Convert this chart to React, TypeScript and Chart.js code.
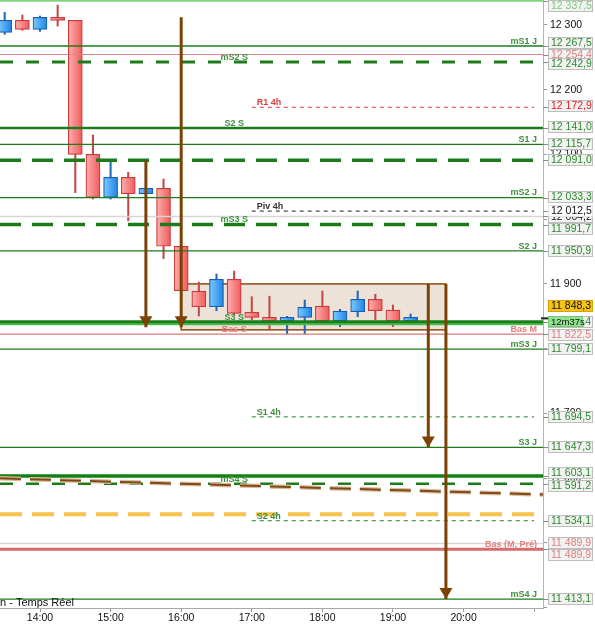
import React, { useEffect, useRef } from 'react';
import { Chart, registerables } from 'chart.js';
Chart.register(...registerables);

const FONT = "'Liberation Sans', Arial, Helvetica, sans-serif";

// ---------- data ----------
const candleTimes = ['13:30','13:45','14:00','14:15','14:30','14:45','15:00','15:15','15:30','15:45','16:00','16:15','16:30','16:45','17:00','17:15','17:30','17:45','18:00','18:15','18:30','18:45','19:00','19:15'];
const opens  = [12288.7,12307.2,12293.3,12311.8,12307.2,12100.2,12033.8,12064.7,12039.3,12047.7,11958.1,11889.0,11864.7,11907.1,11856.1,11848.4,11843.0,11848.4,11865.8,11843.0,11857.0,11876.2,11859.6,11843.0];
const highs  = [12319.6,12315.4,12313.8,12330.8,12307.2,12130.0,12089.8,12072.4,12049.5,12062.0,11958.1,11902.9,11915.3,11919.9,11880.2,11881.0,11849.9,11875.1,11889.0,11860.7,11889.0,11883.9,11867.4,11853.5];
const lows   = [12285.6,12291.8,12290.2,12298.4,12040.9,12031.1,12031.1,11997.6,12037.5,11938.9,11886.0,11850.4,11858.6,11852.0,11844.2,11828.8,11822.6,11822.6,11840.0,11833.9,11849.3,11844.0,11833.9,11840.0];
const closes = [12307.2,12293.3,12311.8,12307.2,12100.2,12033.8,12064.7,12039.3,12047.7,11958.1,11889.5,11864.7,11907.1,11854.5,11848.4,11843.0,11848.4,11863.8,11843.0,11858.1,11876.2,11858.6,11843.0,11848.3];

const levelNames  = ['', 'mS1 J', '', 'mS2 S', 'R1 4h', 'S2 S', 'S1 J', '', 'mS2 J', 'Piv 4h', '', 'mS3 S', 'S2 J', 'S3 S', '', 'Bas M', 'Bas S', 'mS3 J', 'S1 4h', 'S3 J', '', 'mS4 S', '', 'S2 4h', '', 'Bas (M, Pré)', 'mS4 J'];
const levelValues = [12337.5, 12267.5, 12254.4, 12242.9, 12172.9, 12141.0, 12115.7, 12091.0, 12033.3, 12012.5, 12004.2, 11991.7, 11950.9, 11841.4, 11838.0, 11822.5, 11822.5, 11799.1, 11694.5, 11647.3, 11603.1, 11591.2, 11544.0, 11534.1, 11499.0, 11489.9, 11413.1];

const xTickTimes = ['14:00','15:00','16:00','17:00','18:00','19:00','20:00','21:00'];
const fourHourSpan = ['17:00', '21:00'];
const midLabelTime = '16:45';

const arrowTimes = ['15:30', '16:00', '19:30', '19:45'];
const arrowTops  = [12091.0, 12312.0, 11900.0, 11900.0];
const arrowTips  = [11833.0, 11833.0, 11647.3, 11413.1];

const zoneTimes  = ['16:00', '19:45'];
const zoneValues = [11900.0, 11829.0];

const trendTimes  = ['13:26', '21:08'];
const trendValues = [11599.6, 11574.6];

const timerText = '12m37s';
const footerText = 'n - Temps Réel';

const X_MIN = 806;
const X_MAX = 1267.5;
const Y_MIN = 11399.3;
const Y_MAX = 12338.6;

// ---------- styles ----------
const G = '#1c7c1c';
const LG = '#3f8f3f';
const BG = '#2b8a2b';
const PINK = '#e27e7e';

type Box = { tc: string; bg?: string; bd?: string; dy: number[]; under?: boolean };
type St = { c?: string; w?: number; d?: number[]; span?: string; lab?: string; lc?: string; box?: Box };

const levelStyles: St[] = [
  { c: '#84d284', w: 2, box: { tc: '#7acb7a', dy: [5.3] } },
  { c: G, w: 1.3, lab: 'right', box: { tc: BG, dy: [-3.3] } },
  { c: '#d98585', w: 1.2, box: { tc: PINK, dy: [0], under: true } },
  { c: G, w: 3, d: [13, 13], lab: 'mid', box: { tc: BG, dy: [2] } },
  { c: '#e0393c', w: 1, d: [4, 4], span: '4h', lab: 'start', lc: '#e23c3c', box: { tc: '#e21a1a', dy: [-1] } },
  { c: G, w: 2.5, lab: 'mid', box: { tc: BG, dy: [-0.9] } },
  { c: G, w: 1.3, lab: 'right', box: { tc: BG, dy: [0] } },
  { c: G, w: 3.5, d: [21, 11], box: { tc: BG, dy: [0] } },
  { c: G, w: 1.3, lab: 'right', box: { tc: BG, dy: [-1] } },
  { c: '#222', w: 1, d: [4, 4], span: '4h', lab: 'start', lc: '#333', box: { tc: '#111', bg: '#ffffff', bd: '#e4e4e4', dy: [0] } },
  { c: '#d6d6d6', w: 1.5, box: { tc: '#222', dy: [1], under: true } },
  { c: G, w: 3.5, d: [21, 11], lab: 'mid', box: { tc: BG, dy: [4.8] } },
  { c: G, w: 1.3, lab: 'right', box: { tc: BG, dy: [0] } },
  { c: '#1a7f1a', w: 3, lab: 'mid', box: { tc: BG, dy: [0] } },
  { c: '#4cba4c', w: 2.5 },
  { c: '#d77a7a', w: 1.2, lab: 'right', lc: PINK, box: { tc: PINK, dy: [1] } },
  { lab: 'mid', lc: PINK },
  { c: G, w: 1.3, lab: 'right', box: { tc: BG, dy: [0] } },
  { c: G, w: 1, d: [4, 4], span: '4h', lab: 'start', box: { tc: BG, dy: [0.5] } },
  { c: G, w: 1.3, lab: 'right', box: { tc: BG, dy: [0] } },
  { c: '#138013', w: 3.5, box: { tc: BG, dy: [-3] } },
  { c: G, w: 2.5, d: [13, 13], lab: 'mid', box: { tc: BG, dy: [2.6] } },
  { c: '#f7c44c', w: 4, d: [22, 10] },
  { c: G, w: 1, d: [4, 4], span: '4h', lab: 'start', box: { tc: BG, dy: [0] } },
  { c: '#d6d6d6', w: 1.5 },
  { c: '#d66b6b', w: 3, lab: 'right', lc: PINK, box: { tc: PINK, dy: [-6.4, 6] } },
  { c: G, w: 1.3, lab: 'right', box: { tc: BG, dy: [0] } },
];

const toMin = (t: string) => {
  const [h, m] = t.split(':').map(Number);
  return h * 60 + m;
};
const fmtInt = (v: number) => {
  const s = String(Math.round(v));
  return s.slice(0, -3) + ' ' + s.slice(-3);
};
const fmt1 = (v: number) => {
  const [a, b] = v.toFixed(1).split('.');
  return a.slice(0, -3) + ' ' + a.slice(-3) + ',' + b;
};

const ARROW = '#7c4205';

function drawBox(ctx: CanvasRenderingContext2D, cy: number, text: string, tc: string, bg: string, bd: string, w = 45, h = 12, size = 10.5) {
  const x = 548;
  const top = Math.round(cy - h / 2);
  ctx.fillStyle = bg;
  ctx.fillRect(x, top, w, h);
  ctx.strokeStyle = bd;
  ctx.lineWidth = 1;
  ctx.strokeRect(x + 0.5, top + 0.5, w - 1, h - 1);
  ctx.fillStyle = tc;
  ctx.font = `${size}px ${FONT}`;
  ctx.textAlign = 'left';
  ctx.textBaseline = 'middle';
  ctx.fillText(text, x + 3, top + h / 2 + 0.5);
}

const overlay = {
  id: 'overlay',
  beforeDatasetsDraw(chart: any) {
    const { ctx, scales: { x: xs, y: ys } } = chart;
    const x0 = xs.getPixelForValue(toMin(zoneTimes[0]));
    const x1 = xs.getPixelForValue(toMin(zoneTimes[1]));
    const y0 = ys.getPixelForValue(zoneValues[0]);
    const y1 = ys.getPixelForValue(zoneValues[1]);
    ctx.save();
    ctx.fillStyle = '#ece2d8';
    ctx.fillRect(x0, y0, x1 - x0, y1 - y0);
    ctx.strokeStyle = '#8a4b14';
    ctx.lineWidth = 1.5;
    ctx.strokeRect(x0, y0, x1 - x0, y1 - y0);
    ctx.restore();
  },
  afterDatasetsDraw(chart: any) {
    const { ctx, chartArea, scales: { x: xs, y: ys } } = chart;
    ctx.save();
    ctx.fillStyle = ARROW;
    arrowTimes.forEach((t, i) => {
      const x = xs.getPixelForValue(toMin(t));
      const y = ys.getPixelForValue(arrowTips[i]);
      ctx.beginPath();
      ctx.moveTo(x - 6.5, y - 11);
      ctx.lineTo(x + 6.5, y - 11);
      ctx.lineTo(x, y);
      ctx.closePath();
      ctx.fill();
    });
    ctx.font = `bold 9px ${FONT}`;
    ctx.textBaseline = 'alphabetic';
    levelNames.forEach((name, i) => {
      if (!name) return;
      const s = levelStyles[i];
      const y = ys.getPixelForValue(levelValues[i]) - 2.2;
      ctx.fillStyle = s.lc || LG;
      if (s.lab === 'right') {
        ctx.textAlign = 'right';
        ctx.fillText(name, chartArea.right - 6, y);
      } else if (s.lab === 'mid') {
        ctx.textAlign = 'center';
        ctx.fillText(name, xs.getPixelForValue(toMin(midLabelTime)), y);
      } else if (s.lab === 'start') {
        ctx.textAlign = 'left';
        ctx.fillText(name, xs.getPixelForValue(toMin(fourHourSpan[0])) + 5, y);
      }
    });
    ctx.font = `11px ${FONT}`;
    ctx.fillStyle = '#111';
    ctx.textAlign = 'left';
    ctx.fillText(footerText, 0, chartArea.bottom - 2);
    ctx.restore();
  },
  afterDraw(chart: any) {
    const { ctx, chartArea, scales: { y: ys } } = chart;
    ctx.save();
    [true, false].forEach((pass) => {
      levelValues.forEach((v, i) => {
        const b = levelStyles[i].box;
        if (!b || !!b.under !== pass) return;
        const ly = ys.getPixelForValue(v);
        ctx.strokeStyle = '#8a8a8a';
        ctx.lineWidth = 1;
        ctx.beginPath();
        ctx.moveTo(chartArea.right, Math.round(ly) + 0.5);
        ctx.lineTo(chartArea.right + 5, Math.round(ly) + 0.5);
        ctx.stroke();
        b.dy.forEach((dy) => drawBox(ctx, ly + dy, fmt1(v), b.tc, b.bg || '#f2f2f2', b.bd || '#bdbdbd'));
      });
    });
    const price = closes[closes.length - 1];
    const py = ys.getPixelForValue(price);
    ctx.strokeStyle = '#222';
    ctx.lineWidth = 2;
    ctx.beginPath();
    ctx.moveTo(chartArea.right - 2, py + 1);
    ctx.lineTo(chartArea.right + 5, py + 1);
    ctx.stroke();
    drawBox(ctx, py - 11.5, fmt1(price), '#111', '#f6c21c', '#d9a400');
    drawBox(ctx, py + 4, timerText, '#111', '#90e490', '#74c874', 35, 11, 9.5);
    ctx.restore();
  },
};

function bodyFill(c: any) {
  const i = c.dataIndex;
  if (i == null || c.raw == null) return '#f77b7b';
  const up = closes[i] >= opens[i];
  const solid = up ? '#3d9df0' : '#f77b7b';
  const xs = c.chart.scales && c.chart.scales.x;
  if (!xs) return solid;
  const px = xs.getPixelForValue(c.raw.x);
  if (!isFinite(px)) return solid;
  const g = c.chart.ctx.createLinearGradient(px - 7, 0, px + 7, 0);
  if (up) {
    g.addColorStop(0, '#7ccbff');
    g.addColorStop(1, '#1f84e6');
  } else {
    g.addColorStop(0, '#ffb0b0');
    g.addColorStop(1, '#f05a5a');
  }
  return g;
}

export default function App() {
  const ref = useRef<HTMLCanvasElement>(null);
  useEffect(() => {
    document.body.style.margin = '0';
    const canvas = ref.current;
    if (!canvas) return;

    const datasets: any[] = [];
    arrowTimes.forEach((t, i) => {
      datasets.push({
        type: 'line',
        data: [{ x: toMin(t), y: arrowTops[i] }, { x: toMin(t), y: arrowTips[i] }],
        borderColor: ARROW, borderWidth: 3, pointRadius: 0, fill: false, order: 0, borderCapStyle: 'butt',
      });
    });
    const trendData = trendTimes.map((t, i) => ({ x: toMin(t), y: trendValues[i] }));
    datasets.push({ type: 'line', data: trendData, borderColor: '#7a4a1c', borderWidth: 2, borderDash: [21, 9], pointRadius: 0, fill: false, order: 1 });
    datasets.push({ type: 'line', data: trendData, borderColor: '#dcbc98', borderWidth: 4.5, borderDash: [21, 9], pointRadius: 0, fill: false, order: 1 });
    levelValues.forEach((v, i) => {
      const s = levelStyles[i];
      if (!s.w) return;
      const four = s.span === '4h';
      const x0 = four ? toMin(fourHourSpan[0]) : X_MIN;
      const x1 = four ? toMin(fourHourSpan[1]) : X_MAX;
      datasets.push({
        type: 'line',
        data: [{ x: x0, y: v }, { x: x1, y: v }],
        borderColor: s.c, borderWidth: s.w, borderDash: s.d || [], pointRadius: 0, fill: false, order: 1, borderCapStyle: 'butt',
      });
    });
    datasets.push({
      type: 'bar',
      data: candleTimes.map((t, i) => ({ x: toMin(t), y: [opens[i], closes[i]] })),
      backgroundColor: bodyFill,
      borderColor: (c: any) => (c.dataIndex != null && closes[c.dataIndex] >= opens[c.dataIndex] ? '#1a5fb4' : '#c83c3c'),
      borderWidth: 1.2, borderSkipped: false, barThickness: 14, grouped: false, order: 2,
    });
    datasets.push({
      type: 'bar',
      data: candleTimes.map((t, i) => ({ x: toMin(t), y: [lows[i], highs[i]] })),
      backgroundColor: (c: any) => (c.dataIndex != null && closes[c.dataIndex] >= opens[c.dataIndex] ? '#2266bb' : '#c64848'),
      borderWidth: 0, barThickness: 1.4, grouped: false, order: 3,
    });

    const chart = new Chart(canvas, {
      type: 'bar',
      data: { datasets },
      plugins: [overlay],
      options: {
        responsive: false,
        animation: false,
        events: [],
        layout: { padding: 0 },
        plugins: { legend: { display: false }, tooltip: { enabled: false }, title: { display: false } },
        scales: {
          x: {
            type: 'linear', min: X_MIN, max: X_MAX, offset: false, position: 'bottom',
            afterFit: (s: any) => { s.height = 18; s.paddingLeft = 0; s.paddingRight = 0; },
            afterBuildTicks: (s: any) => { s.ticks = xTickTimes.map((t) => ({ value: toMin(t) })); },
            grid: { display: true, drawOnChartArea: false, drawTicks: true, tickLength: 4, color: '#9a9a9a', offset: false },
            border: { display: true, color: '#a8a8a8' },
            ticks: {
              autoSkip: false, maxRotation: 0, padding: 0, color: '#111', font: { family: FONT, size: 10.5 },
              callback: (v: any) => {
                const m = Number(v);
                if (m > X_MAX - 20) return '';
                const h = Math.floor(m / 60);
                return String(h).padStart(2, '0') + ':' + String(m % 60).padStart(2, '0');
              },
            },
          },
          y: {
            type: 'linear', position: 'right', min: Y_MIN, max: Y_MAX, beginAtZero: false,
            afterFit: (s: any) => { s.width = 52; s.paddingTop = 0; s.paddingBottom = 0; },
            grid: { display: true, drawOnChartArea: false, drawTicks: true, tickLength: 4, color: '#9a9a9a' },
            border: { display: true, color: '#b4b4b4' },
            ticks: {
              stepSize: 100, includeBounds: false, padding: 3, color: '#111', font: { family: FONT, size: 10.5 },
              callback: (v: any) => (Number(v) < Y_MIN + 10 ? '' : fmtInt(Number(v))),
            },
          },
        },
      } as any,
    } as any);
    return () => chart.destroy();
  }, []);
  return (
    <div style={{ position: 'absolute', left: 0, top: 0, width: 595, height: 626, background: '#fff' }}>
      <canvas ref={ref} width={595} height={626} style={{ display: 'block', width: 595, height: 626 }} />
    </div>
  );
}
